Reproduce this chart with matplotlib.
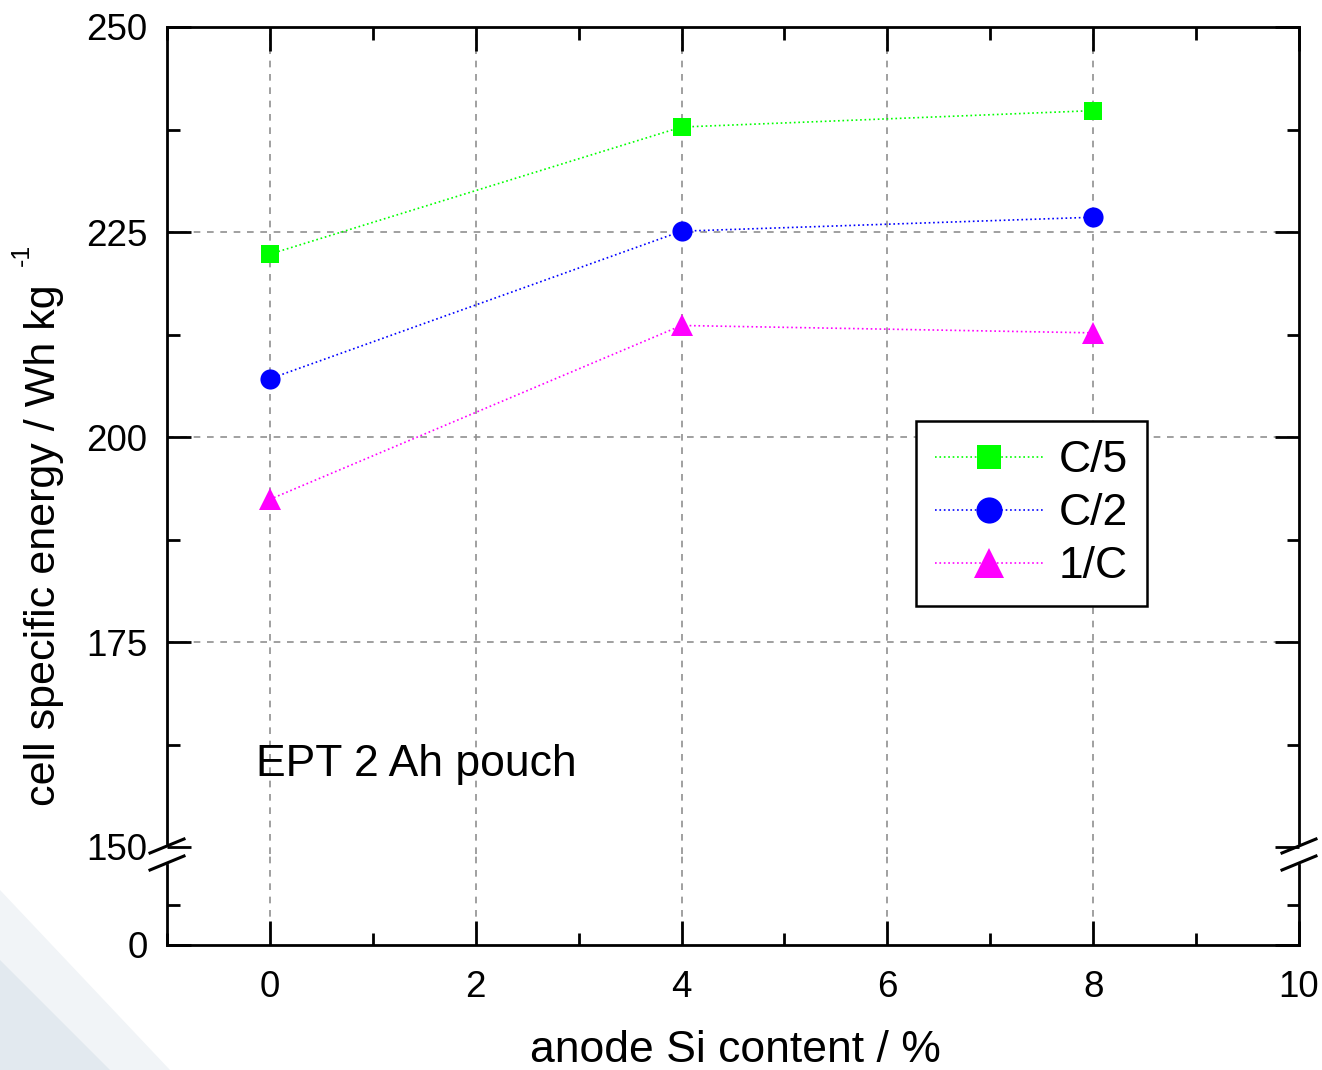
import matplotlib
matplotlib.use("Agg")
import matplotlib.pyplot as plt
from matplotlib.lines import Line2D
from matplotlib.patches import Polygon
from matplotlib.ticker import MultipleLocator

plt.rcParams['font.family'] = ['Liberation Sans', 'DejaVu Sans']

# anode Si content in %, cell specific energy in Wh/kg for three C-rates
si_content = [0, 4, 8]
energy_c5 = [222.3, 237.8, 239.8]
energy_c2 = [207.1, 225.1, 226.8]
energy_1c = [192.4, 213.6, 212.7]

series_labels = ['C/5', 'C/2', '1/C']
series_colors = ['#00ff00', '#0000ff', '#ff00ff']
series_markers = ['s', 'o', '^']
series_msize = [13, 14.5, 16.5]

W, H = 1322, 1070
fig = plt.figure(figsize=(W / 100, H / 100), dpi=100)


def fx(px):
    return px / W


def fy(py):
    return 1 - py / H


left, right = 167, 1299
top, brk, bottom = 27, 854, 945

ax = fig.add_axes([fx(left), fy(brk), fx(right - left), fy(top) - fy(brk)])
axb = fig.add_axes([fx(left), fy(bottom), fx(right - left), fy(brk) - fy(bottom)], sharex=ax)

# faint backdrop swoosh in the lower left corner
fig.patches.append(Polygon([(0, fy(890)), (0, 0), (fx(170), 0)], closed=True,
                           transform=fig.transFigure, facecolor='#f1f4f7',
                           edgecolor='none', zorder=-10))
fig.patches.append(Polygon([(0, fy(960)), (0, 0), (fx(110), 0)], closed=True,
                           transform=fig.transFigure, facecolor='#e2e9ef',
                           edgecolor='none', zorder=-9))
for a in (ax, axb):
    a.set_facecolor('none')

data = [energy_c5, energy_c2, energy_1c]
for vals, lab, col, mk, ms in zip(data, series_labels, series_colors,
                                  series_markers, series_msize):
    ax.plot(si_content, vals, linestyle=':', linewidth=1.2, color=col,
            marker=mk, markersize=ms, markeredgewidth=0, label=lab,
            clip_on=False, zorder=5)

ax.set_xlim(-1, 10)
ax.set_ylim(150 - (brk - 847) / 8.2, 250)
axb.set_ylim(0, 10 * (bottom - brk) / 40)

ax.xaxis.set_major_locator(MultipleLocator(2))
ax.xaxis.set_minor_locator(MultipleLocator(1))
ax.yaxis.set_major_locator(MultipleLocator(25))
ax.yaxis.set_minor_locator(MultipleLocator(12.5))
axb.set_yticks([0])
axb.set_yticks([10], minor=True)

for a in (ax, axb):
    a.tick_params(which='both', direction='in', top=True, right=True,
                  width=2, labelsize=26.5, color='black')
    a.tick_params(which='major', length=17)
    a.tick_params(which='minor', length=9)
    a.tick_params(axis='x', pad=18)
    a.tick_params(axis='y', pad=14)
    for s in a.spines.values():
        s.set_linewidth(2)

ax.tick_params(axis='x', labelbottom=False, bottom=False, which='both')
axb.tick_params(axis='x', top=False, which='both')
ax.spines['bottom'].set_visible(False)
axb.spines['top'].set_visible(False)
ax.spines['left'].set_bounds(150 + (847 - 843) / 8.2, 250)
ax.spines['right'].set_bounds(150 + (847 - 843) / 8.2, 250)
axb.spines['left'].set_bounds(0, 10 * (bottom - 865) / 40)
axb.spines['right'].set_bounds(0, 10 * (bottom - 865) / 40)

grid_kw = dict(color='#909090', linestyle=(0, (4, 4)), linewidth=1.2, zorder=0)
ax.set_xticks([0, 2, 4, 6, 8, 10])
for gx in [0, 2, 4, 6, 8]:
    ax.axvline(gx, **grid_kw)
    axb.axvline(gx, ymin=0.17, **grid_kw)
for gy in [175, 200, 225]:
    ax.axhline(gy, **grid_kw)

# axis break marks on both sides
for xc in (167, 1299):
    for yc in (846, 863):
        fig.add_artist(Line2D([fx(xc - 17), fx(xc + 17)], [fy(yc + 7), fy(yc - 7)],
                              color='black', linewidth=2.2,
                              transform=fig.transFigure))

fig.text(fx(735), fy(1050), 'anode Si content / %', fontsize=32,
         ha='center', va='center')
fig.text(fx(44), fy(545), 'cell specific energy / Wh kg', fontsize=31,
         rotation=90, ha='center', va='center')
fig.text(fx(22), fy(255), '-1', fontsize=18, rotation=90,
         ha='center', va='center')
fig.text(fx(256), fy(776), 'EPT 2 Ah pouch', fontsize=32, ha='left',
         va='baseline')

leg = ax.legend(loc='upper left', bbox_to_anchor=(fx(916), fy(421)),
                bbox_transform=fig.transFigure, fontsize=32, frameon=True,
                fancybox=False, edgecolor='black', numpoints=1,
                handlelength=2.43, handletextpad=0.36, labelspacing=0.27,
                borderpad=0.43, borderaxespad=0, markerscale=1.3)
leg.get_frame().set_linewidth(1.8)
leg.get_frame().set_alpha(1)

fig.savefig('out.png', dpi=100)
